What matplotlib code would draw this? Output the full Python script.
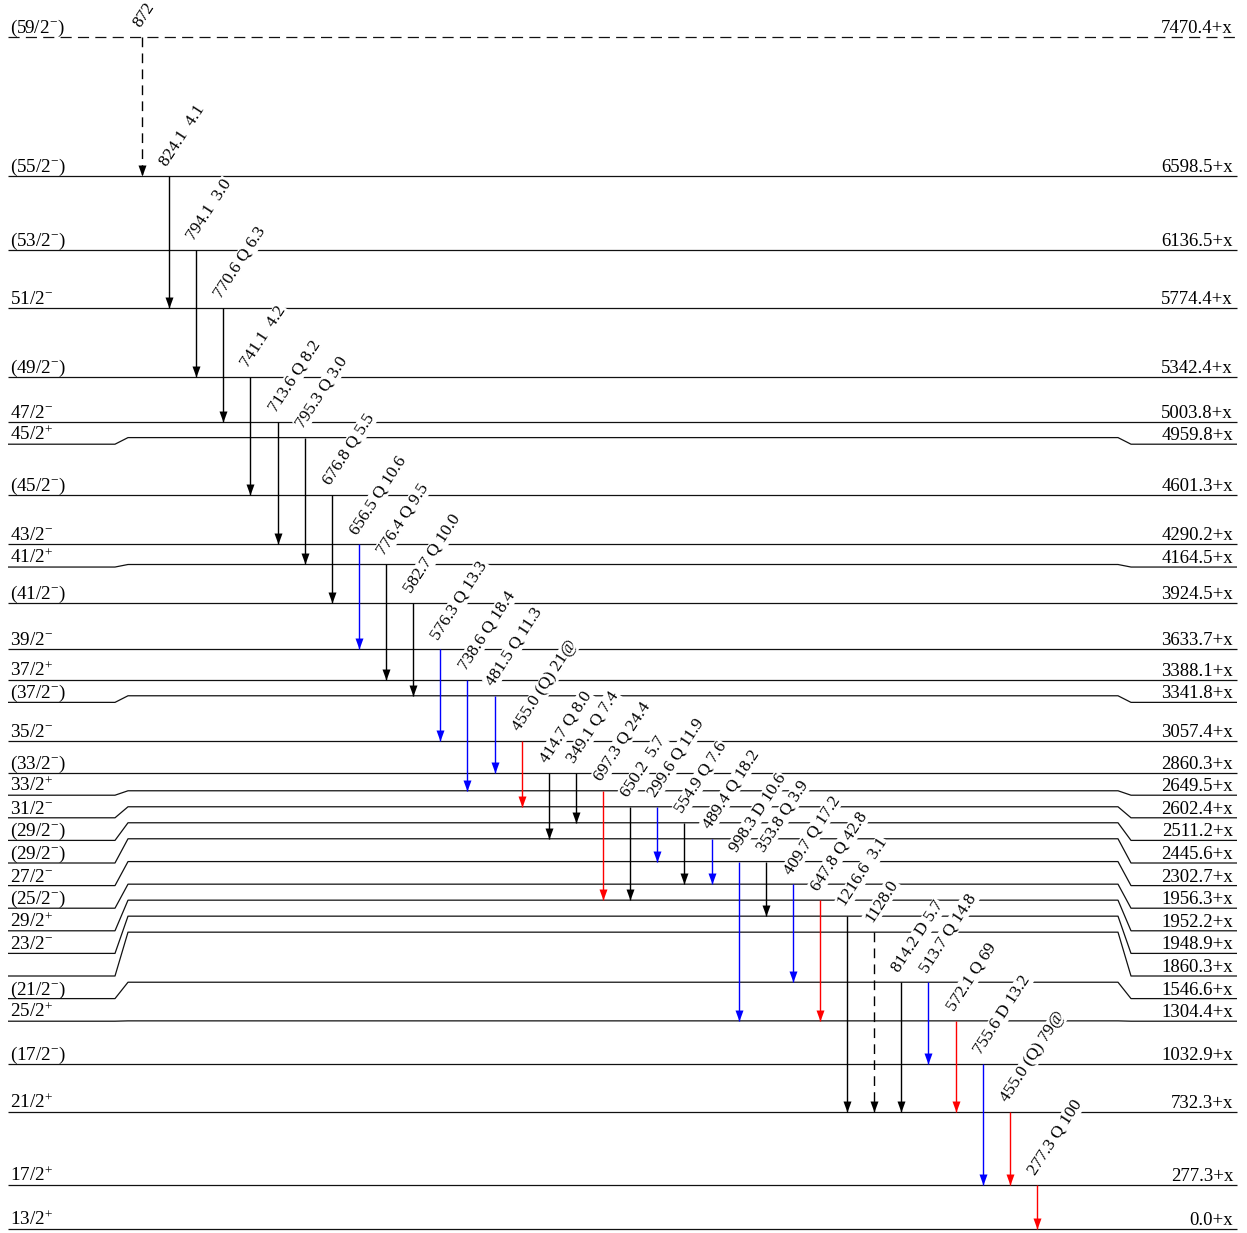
import re
import matplotlib
matplotlib.use("Agg")
import matplotlib.pyplot as plt
from matplotlib.transforms import offset_copy

plt.rcParams["font.family"] = ["Liberation Serif", "DejaVu Serif"]
plt.rcParams["mathtext.fontset"] = "custom"
plt.rcParams["mathtext.rm"] = "Liberation Serif"
plt.rcParams["mathtext.it"] = "Liberation Serif:italic"
plt.rcParams["mathtext.bf"] = "Liberation Serif:bold"
plt.rcParams["lines.scale_dashes"] = False

# ---- level scheme data -------------------------------------------------
level_energy = [0.0, 277.3, 732.3, 1032.9, 1304.4, 1546.6, 1860.3, 1948.9,
                1952.2, 1956.3, 2302.7, 2445.6, 2511.2, 2602.4, 2649.5,
                2860.3, 3057.4, 3341.8, 3388.1, 3633.7, 3924.5, 4164.5,
                4290.2, 4601.3, 4959.8, 5003.8, 5342.4, 5774.4, 6136.5,
                6598.5, 7470.4]
level_spin = ["13/2+", "17/2+", "21/2+", "(17/2-)", "25/2+", "(21/2-)", "",
              "23/2-", "29/2+", "(25/2-)", "27/2-", "(29/2-)", "(29/2-)",
              "31/2-", "33/2+", "(33/2-)", "35/2-", "(37/2-)", "37/2+",
              "39/2-", "(41/2-)", "41/2+", "43/2-", "(45/2-)", "45/2+",
              "47/2-", "(49/2-)", "51/2-", "(53/2-)", "(55/2-)", "(59/2-)"]
tentative_levels = [7470.4]

gamma_from = [7470.4, 6598.5, 6136.5, 5774.4, 5342.4, 5003.8, 4959.8, 4601.3,
              4290.2, 4164.5, 3924.5, 3633.7, 3388.1, 3341.8, 3057.4, 2860.3,
              2860.3, 2649.5, 2602.4, 2602.4, 2511.2, 2445.6, 2302.7, 2302.7,
              1956.3, 1952.2, 1948.9, 1860.3, 1546.6, 1546.6, 1304.4, 1032.9,
              732.3, 277.3]
gamma_to = [6598.5, 5774.4, 5342.4, 5003.8, 4601.3, 4290.2, 4164.5, 3924.5,
            3633.7, 3388.1, 3341.8, 3057.4, 2649.5, 2860.3, 2602.4, 2445.6,
            2511.2, 1952.2, 1952.2, 2302.7, 1956.3, 1956.3, 1304.4, 1948.9,
            1546.6, 1304.4, 732.3, 732.3, 732.3, 1032.9, 732.3, 277.3,
            277.3, 0.0]
gamma_energy = ["872", "824.1", "794.1", "770.6", "741.1", "713.6", "795.3",
                "676.8", "656.5", "776.4", "582.7", "576.3", "738.6", "481.5",
                "455.0", "414.7", "349.1", "697.3", "650.2", "299.6", "554.9",
                "489.4", "998.3", "353.8", "409.7", "647.8", "1216.6",
                "1128.0", "814.2", "513.7", "572.1", "755.6", "455.0", "277.3"]
gamma_mult = ["", "", "", "Q", "", "Q", "Q", "Q", "Q", "Q", "Q", "Q", "Q",
              "Q", "(Q)", "Q", "Q", "Q", "", "Q", "Q", "Q", "D", "Q", "Q",
              "Q", "", "", "D", "Q", "Q", "D", "(Q)", "Q"]
gamma_intensity = ["", "4.1", "3.0", "6.3", "4.2", "8.2", "3.0", "5.5",
                   "10.6", "9.5", "10.0", "13.3", "18.4", "11.3", "21@",
                   "8.0", "7.4", "24.4", "5.7", "11.9", "7.6", "18.2", "10.6",
                   "3.9", "17.2", "42.8", "3.1", "", "5.7", "14.8", "69",
                   "13.2", "79@", "100"]
gamma_color = ["k", "k", "k", "k", "k", "k", "k", "k", "b", "k", "k", "b",
               "b", "b", "r", "k", "k", "r", "k", "b", "k", "b", "b", "k",
               "b", "r", "k", "k", "k", "b", "r", "b", "r", "r"]
tentative_gammas = ["872", "1128.0"]

COLORS = {"k": "#000000", "b": "#0000ff", "r": "#ff0000"}

# ---- geometry ----------------------------------------------------------
W, H = 1247, 1233
PX_PER_KEV = 1192.0 / 7470.4        # vertical energy scale
Y0 = 1229                           # pixel row of the ground state
MID_GAP = 16.0 / PX_PER_KEV         # min spacing of drawn level lines
LAB_GAP = 22.6 / PX_PER_KEV         # min spacing of level labels

fig = plt.figure(figsize=(W / 100, H / 100), dpi=100)
ax = fig.add_axes([0, 0, 1, 1])
ax.set_xlim(0, W)
ax.set_ylim((Y0 - H) / PX_PER_KEV, Y0 / PX_PER_KEV)
ax.axis("off")

# drawn position of every level: pushed upward so lines keep apart
order = sorted(range(len(level_energy)), key=lambda i: level_energy[i])
pos = {}
prev = None
for i in order:
    e = level_energy[i]
    p = e if prev is None else max(e, prev + MID_GAP)
    pos[e] = p
    prev = p

# label row of every level: pushed downward so texts keep apart
lab = {}
prev = None
for i in reversed(order):
    e = level_energy[i]
    p = pos[e] if prev is None else min(pos[e], prev - LAB_GAP)
    lab[e] = p
    prev = p


def spin_text(s):
    return re.sub(r"([+-])", r"$^{\1}$", s)


FS_LEVEL = 13.8
FS_GAMMA = 12.5
x_left, x_k1, x_k2 = 8, 115, 128
x_right, x_k3, x_k4 = 1237, 1131, 1118

for e, s in zip(level_energy, level_spin):
    ls = (0, (8, 4.5)) if e in tentative_levels else "-"
    if abs(lab[e] - pos[e]) < 1e-6:
        xs, ys = [x_left, x_right], [pos[e], pos[e]]
    else:
        xs = [x_left, x_k1, x_k2, x_k4, x_k3, x_right]
        ys = [lab[e], lab[e], pos[e], pos[e], lab[e], lab[e]]
    ax.plot(xs, ys, color="#111111", lw=0.9, ls=ls, zorder=1,
            solid_capstyle="butt")
    up = offset_copy(ax.transData, fig=fig, x=0, y=4, units="dots")
    if s:
        ax.text(10, lab[e], spin_text(s), transform=up, fontsize=FS_LEVEL,
                ha="left", va="baseline", zorder=2)
    ax.text(1233, lab[e], f"{e:.1f}+x", transform=up, fontsize=13.5,
            ha="right", va="baseline", zorder=2)

# ---- gamma transitions -------------------------------------------------
X_FIRST, X_STEP = 142, 27.12
head = [(0, 0), (-4, 11), (4, 11), (0, 0)]
for j, (ei, ef) in enumerate(zip(gamma_from, gamma_to)):
    x = X_FIRST + X_STEP * j
    c = COLORS[gamma_color[j]]
    dashed = gamma_energy[j] in tentative_gammas
    y_top, y_bot = pos[ei], pos[ef]
    ax.plot([x, x], [y_top, y_bot], color=c, lw=1.0,
            ls=(0, (7, 4.5)) if dashed else "-", zorder=3,
            solid_capstyle="butt")
    ax.plot([x], [y_bot], marker=head, markersize=15.8, color=c,
            markeredgewidth=0, zorder=4)
    label = " ".join([gamma_energy[j], gamma_mult[j], gamma_intensity[j]]).rstrip()
    tr = offset_copy(ax.transData, fig=fig, x=-2, y=9, units="dots")
    ax.text(x, y_top, label, transform=tr, fontsize=FS_GAMMA, rotation=57,
            rotation_mode="anchor", ha="left", va="baseline", zorder=2,
            bbox=dict(boxstyle="square,pad=0.03", fc="white", ec="none"))

fig.savefig("out.png", dpi=100, facecolor="white")
